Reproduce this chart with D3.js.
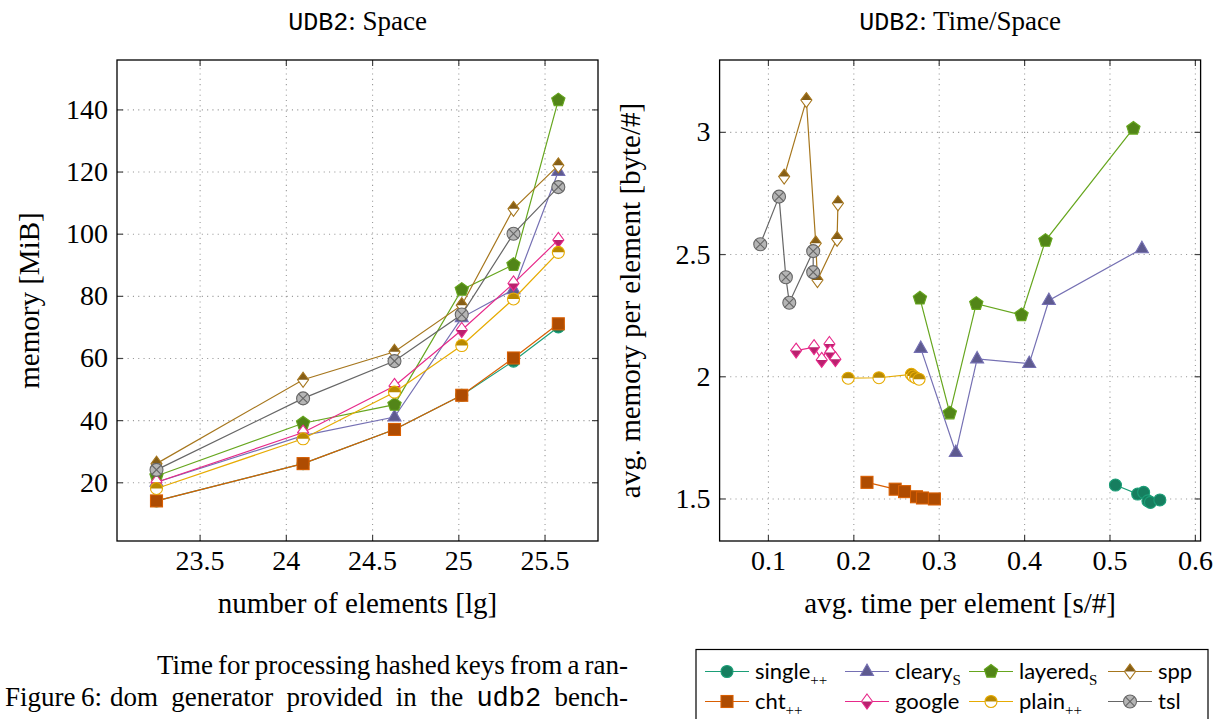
<!DOCTYPE html>
<html><head><meta charset="utf-8">
<script src="https://cdn.jsdelivr.net/npm/d3@7"></script>
<style>body{margin:0;background:#fff}svg{display:block}</style>
</head><body>
<svg id="c" width="1213" height="719"></svg>
<script>
// ---------- data ----------
const seriesNames = ["single", "cleary", "layered", "spp", "cht", "google", "plain", "tsl"];
const spaceLgElements = [23.25, 24.10, 24.63, 25.02, 25.32, 25.58];
const spaceSingle  = [14, 26, 37, 48, 59, 70];
const spaceCleary  = [20, 35, 41, 73, 82, 120];
const spaceLayered = [22, 39, 45, 82, 90, 143];
const spaceSpp     = [26, 53, 62, 77, 108, 122];
const spaceCht     = [14, 26, 37, 48, 60, 71];
const spaceGoogle  = [20, 36, 51, 69, 84, 98];
const spacePlain   = [18, 34, 49, 64, 79, 94];
const spaceTsl     = [24, 47, 59, 74, 100, 115];

const timeSingle  = [0.507, 0.533, 0.540, 0.545, 0.548, 0.559];
const memSingle   = [1.555, 1.518, 1.525, 1.490, 1.484, 1.494];
const timeCleary  = [0.279, 0.320, 0.345, 0.406, 0.429, 0.538];
const memCleary   = [2.114, 1.688, 2.071, 2.052, 2.310, 2.522];
const timeLayered = [0.278, 0.313, 0.344, 0.397, 0.425, 0.528];
const memLayered  = [2.319, 1.849, 2.297, 2.251, 2.555, 3.014];
const timeSpp     = [0.119, 0.145, 0.156, 0.158, 0.181, 0.182];
const memSpp      = [2.817, 3.130, 2.544, 2.394, 2.562, 2.708];
const timeCht     = [0.216, 0.249, 0.260, 0.274, 0.281, 0.295];
const memCht      = [1.566, 1.538, 1.528, 1.507, 1.502, 1.498];
const timeGoogle  = [0.133, 0.154, 0.163, 0.172, 0.173, 0.179];
const memGoogle   = [2.105, 2.119, 2.067, 2.132, 2.097, 2.070];
const timePlain   = [0.194, 0.230, 0.268, 0.270, 0.273, 0.277];
const memPlain    = [1.992, 1.994, 2.008, 2.001, 1.994, 1.988];
const timeTsl     = [0.091, 0.113, 0.121, 0.125, 0.153, 0.153];
const memTsl      = [2.540, 2.735, 2.405, 2.301, 2.512, 2.426];

const spaceXTicks = [23.5, 24, 24.5, 25, 25.5];
const spaceYTicks = [20, 40, 60, 80, 100, 120, 140];
const tsXTicks = [0.1, 0.2, 0.3, 0.4, 0.5, 0.6];
const tsYTicks = [1.5, 2, 2.5, 3];
const legendLabels = ["single", "cleary", "layered", "spp", "cht", "google", "plain", "tsl"];
const legendSubs   = ["++", "S", "S", "", "++", "", "++", ""];

// ---------- styles ----------
const SERIF = "'Liberation Serif','DejaVu Serif',serif";
const MONO = "'Liberation Mono','DejaVu Sans Mono',monospace";
const SANS = "Lato,'Open Sans','DejaVu Sans',sans-serif";
const colorOf = {single:"#1b9e77", cleary:"#7570b3", layered:"#66a61e", spp:"#a6761d",
                 cht:"#d95f02", google:"#e7298a", plain:"#e6ab02", tsl:"#666666"};
const markOf = {single:"circle", cleary:"triangle", layered:"pentagon", spp:"diamondTop",
                cht:"square", google:"diamondBottom", plain:"halfcircle", tsl:"otimes"};
const dark = c => d3.interpolateRgb(c, "#000")(0.2);

const svg = d3.select("#c");

function marker(g, type, color, cx, cy) {
  const m = g.append("g").attr("transform", `translate(${cx},${cy})`);
  const f = dark(color), sw = 1.1;
  if (type === "circle") {
    m.append("circle").attr("r", 6).attr("fill", f).attr("stroke", color).attr("stroke-width", sw);
  } else if (type === "square") {
    m.append("rect").attr("x", -6).attr("y", -6).attr("width", 12).attr("height", 12)
      .attr("fill", f).attr("stroke", color).attr("stroke-width", sw);
  } else if (type === "triangle") {
    m.append("path").attr("d", "M0,-7.5L6.5,4L-6.5,4Z").attr("fill", f).attr("stroke", color).attr("stroke-width", sw);
  } else if (type === "pentagon") {
    const pts = d3.range(5).map(i => { const a = -Math.PI/2 + i*2*Math.PI/5; return [7*Math.cos(a), 7*Math.sin(a)]; });
    m.append("path").attr("d", "M" + pts.join("L") + "Z").attr("fill", f).attr("stroke", color).attr("stroke-width", sw);
  } else if (type === "diamondTop" || type === "diamondBottom") {
    const w = 5.5, h = 7.5;
    m.append("path").attr("d", `M0,${-h}L${w},0L0,${h}L${-w},0Z`).attr("fill", "#fff");
    const half = type === "diamondTop" ? `M${-w},0L0,${-h}L${w},0Z` : `M${-w},0L0,${h}L${w},0Z`;
    m.append("path").attr("d", half).attr("fill", f);
    m.append("path").attr("d", `M0,${-h}L${w},0L0,${h}L${-w},0Z`).attr("fill", "none").attr("stroke", color).attr("stroke-width", sw);
  } else if (type === "halfcircle") {
    const r = 6;
    m.append("circle").attr("r", r).attr("fill", "#fff");
    m.append("path").attr("d", `M${-r},0A${r},${r} 0 0 1 ${r},0Z`).attr("fill", f);
    m.append("circle").attr("r", r).attr("fill", "none").attr("stroke", color).attr("stroke-width", sw);
  } else if (type === "otimes") {
    const r = 6.5, k = r*0.707;
    m.append("circle").attr("r", r).attr("fill", "#b5b5b5").attr("stroke", color).attr("stroke-width", sw);
    m.append("path").attr("d", `M${-k},${-k}L${k},${k}M${-k},${k}L${k},${-k}`).attr("stroke", color).attr("stroke-width", sw);
  }
}

function panel(o) {
  const x = d3.scaleLinear().domain(o.xDomain).range([o.x0, o.x1]);
  const y = d3.scaleLinear().domain(o.yDomain).range([o.y1, o.y0]);
  const W = o.x1 - o.x0, H = o.y1 - o.y0;
  const g = svg.append("g");
  // grid
  const gx = g.append("g").attr("transform", `translate(0,${o.y1})`)
    .call(d3.axisBottom(x).tickValues(o.xTicks).tickSize(-H).tickFormat(""));
  const gy = g.append("g").attr("transform", `translate(${o.x0},0)`)
    .call(d3.axisLeft(y).tickValues(o.yTicks).tickSize(-W).tickFormat(""));
  [gx, gy].forEach(a => { a.select(".domain").remove();
    a.selectAll("line").attr("stroke", "#9a9a9a").attr("stroke-width", 1.1).attr("stroke-dasharray", "1.1,4.2"); });
  // ticks (inward, mirrored) + labels
  const ab = g.append("g").attr("transform", `translate(0,${o.y1})`)
    .call(d3.axisBottom(x).tickValues(o.xTicks).tickSizeInner(-6).tickSizeOuter(0).tickPadding(9).tickFormat(d => String(d)));
  const at = g.append("g").attr("transform", `translate(0,${o.y0})`)
    .call(d3.axisTop(x).tickValues(o.xTicks).tickSizeInner(-6).tickSizeOuter(0).tickFormat(""));
  const al = g.append("g").attr("transform", `translate(${o.x0},0)`)
    .call(d3.axisLeft(y).tickValues(o.yTicks).tickSizeInner(-6).tickSizeOuter(0).tickPadding(9).tickFormat(d => String(d)));
  const ar = g.append("g").attr("transform", `translate(${o.x1},0)`)
    .call(d3.axisRight(y).tickValues(o.yTicks).tickSizeInner(-6).tickSizeOuter(0).tickFormat(""));
  [ab, at, al, ar].forEach(a => { a.select(".domain").remove();
    a.attr("font-family", SERIF);
    a.selectAll("line").attr("stroke", "#444").attr("stroke-width", 1.2);
    a.selectAll("text").attr("font-family", SERIF).attr("font-size", 28).attr("fill", "#000"); });
  // series
  const plot = g.append("g");
  o.series.forEach(s => {
    const c = colorOf[s.name];
    const pts = s.xs.map((v, i) => [x(v), y(s.ys[i])]);
    plot.append("path").attr("d", d3.line()(pts)).attr("fill", "none").attr("stroke", c).attr("stroke-width", 1.2);
    pts.forEach(p => marker(plot, markOf[s.name], c, p[0], p[1]));
  });
  // frame
  g.append("rect").attr("x", o.x0).attr("y", o.y0).attr("width", W).attr("height", H)
    .attr("fill", "none").attr("stroke", "#000").attr("stroke-width", 1.3);
  // title
  const t = g.append("text").attr("x", (o.x0 + o.x1)/2).attr("y", 30).attr("text-anchor", "middle")
    .attr("font-size", 27).attr("font-family", SERIF);
  t.append("tspan").attr("font-family", MONO).attr("font-size", 25).text("UDB2");
  t.append("tspan").text(": " + o.title);
  // axis labels
  g.append("text").attr("x", (o.x0 + o.x1)/2).attr("y", 613).attr("text-anchor", "middle")
    .attr("font-family", SERIF).attr("font-size", 29).text(o.xLabel);
  g.append("text").attr("transform", `translate(${o.yLabelX},${(o.y0 + o.y1)/2}) rotate(-90)`)
    .attr("text-anchor", "middle").attr("font-family", SERIF).attr("font-size", 29).text(o.yLabel);
}

panel({
  x0: 117, x1: 598, y0: 60, y1: 541,
  xDomain: [23.021, 25.81], yDomain: [1.1, 155.9],
  xTicks: spaceXTicks, yTicks: spaceYTicks,
  title: "Space", xLabel: "number of elements [lg]", yLabel: "memory [MiB]", yLabelX: 39,
  series: [
    {name: "single", xs: spaceLgElements, ys: spaceSingle},
    {name: "cleary", xs: spaceLgElements, ys: spaceCleary},
    {name: "layered", xs: spaceLgElements, ys: spaceLayered},
    {name: "spp", xs: spaceLgElements, ys: spaceSpp},
    {name: "cht", xs: spaceLgElements, ys: spaceCht},
    {name: "google", xs: spaceLgElements, ys: spaceGoogle},
    {name: "plain", xs: spaceLgElements, ys: spacePlain},
    {name: "tsl", xs: spaceLgElements, ys: spaceTsl}
  ]
});

panel({
  x0: 719.6, x1: 1200.6, y0: 60, y1: 541,
  xDomain: [0.0434, 0.6067], yDomain: [1.326, 3.294],
  xTicks: tsXTicks, yTicks: tsYTicks,
  title: "Time/Space", xLabel: "avg. time per element [s/#]", yLabel: "avg. memory per element [byte/#]", yLabelX: 640,
  series: [
    {name: "single", xs: timeSingle, ys: memSingle},
    {name: "cleary", xs: timeCleary, ys: memCleary},
    {name: "layered", xs: timeLayered, ys: memLayered},
    {name: "spp", xs: timeSpp, ys: memSpp},
    {name: "cht", xs: timeCht, ys: memCht},
    {name: "google", xs: timeGoogle, ys: memGoogle},
    {name: "plain", xs: timePlain, ys: memPlain},
    {name: "tsl", xs: timeTsl, ys: memTsl}
  ]
});

// ---------- legend ----------
const lg = svg.append("g");
lg.append("rect").attr("x", 696).attr("y", 649.5).attr("width", 512).attr("height", 90)
  .attr("fill", "#fff").attr("stroke", "#000").attr("stroke-width", 1.2);
const colX = [727, 867, 991, 1130], rowY = [671.5, 701.5];
seriesNames.forEach((n, i) => {
  const cx = colX[i % 4], cy = rowY[Math.floor(i / 4)], c = colorOf[n];
  lg.append("line").attr("x1", cx - 22).attr("x2", cx + 22).attr("y1", cy).attr("y2", cy)
    .attr("stroke", c).attr("stroke-width", 1.2);
  marker(lg, markOf[n], c, cx, cy);
  const t = lg.append("text").attr("x", cx + 28).attr("y", cy + 7).attr("font-family", SANS).attr("font-size", 22);
  t.append("tspan").text(legendLabels[i]);
  if (legendSubs[i]) t.append("tspan").attr("font-family", SERIF).attr("font-size", 15).attr("dy", 6).text(legendSubs[i]);
});

// ---------- caption ----------
function justify(words, x0, x1, yb) {
  const g = svg.append("g");
  const nodes = words.map(w => g.append("text").attr("y", yb).attr("font-size", 27)
    .attr("font-family", w === "udb2" ? MONO : SERIF).text(w));
  const widths = nodes.map(n => n.node().getComputedTextLength());
  const gap = (x1 - x0 - d3.sum(widths)) / (words.length - 1);
  let xx = x0;
  nodes.forEach((n, i) => { n.attr("x", xx); xx += widths[i] + gap; });
}
justify(["Time", "for", "processing", "hashed", "keys", "from", "a", "ran-"], 157, 628, 674);
svg.append("text").attr("x", 5).attr("y", 706).attr("font-family", SERIF).attr("font-size", 27).text("Figure\u20096:");
justify(["dom", "generator", "provided", "in", "the", "udb2", "bench-"], 110, 628, 706);
</script>
</body></html>
